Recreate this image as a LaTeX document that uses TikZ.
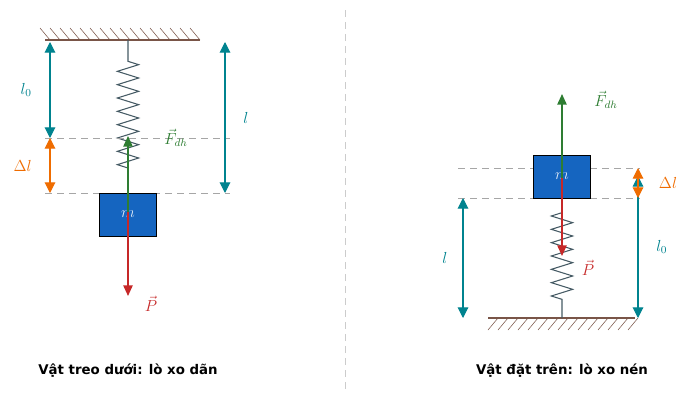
\documentclass[tikz,border=0pt]{standalone}
\usepackage{fontspec}
\setsansfont{DejaVu Sans}
\usetikzlibrary{arrows.meta,decorations.pathmorphing,patterns}
\definecolor{teal}{HTML}{00838F}
\definecolor{orng}{HTML}{EF6C00}
\definecolor{grn}{HTML}{2E7D32}
\definecolor{rd}{HTML}{C62828}
\definecolor{blk}{HTML}{1565C0}
\definecolor{spr}{HTML}{455A64}
\definecolor{brn}{HTML}{795548}
\tikzset{mass/.style = {draw=black, fill=blk, minimum width=42.75pt, minimum height=32.25pt, inner sep=0pt, text=white!85!blk, font=\large},
    spring/.style = {spr, thick, decorate, decoration={zigzag, amplitude=8pt, segment length=10pt, pre length=#1, post length=2pt}},
    dim/.style = {teal, thick, {Triangle[length=8pt,width=8pt]}-{Triangle[length=8pt,width=8pt]}},
    dl/.style = {orng, thick, {Triangle[length=8pt,width=8pt]}-{Triangle[length=8pt,width=8pt]}},
    force/.style = {#1, very thick, -{Triangle[length=8pt,width=7pt]}},
    guide/.style = {gray!70, dashed, dash pattern=on 5pt off 4pt},
    wall/.style = {brn, thick},
    lbl/.style = {font=\large},
    caption/.style = {font=\sffamily\bfseries}}

\begin{document}
\begin{tikzpicture}[x=0.75pt, y=-0.75pt]
    \useasboundingbox (0,0) rectangle (689,400);
    % left: hanging mass
    \draw[wall] (45,40) -- (200,40);
    \foreach \x in {50,60,...,200} \draw[brn] (\x,40) -- (\x-10,28);
    \coordinate (top) at (128,40);
    \coordinate (send) at (128,174);
    \draw[spring=16pt] (top) -- (send);
    \draw[guide] (45,138) -- (230,138);
    \draw[guide] (45,193) -- (230,193);
    \node[mass] (m1) at (128,214.5) {$m$};
    \draw[force=grn] (128,212) -- (128,136);
    \draw[force=rd] (128,212) -- (128,296);
    \node[lbl, grn] (F1) at (176,138) {$\vec F_{dh}$};
    \node[lbl, rd] (P1) at (151,304) {$\vec P$};
    \draw[dim] (50,42) -- (50,138) node[midway, left=10pt, lbl] {$l_0$};
    \draw[dl] (50,138) -- (50,193) node[midway, left=10pt, lbl] {$\Delta l$};
    \draw[dim] (225,42) -- (225,193) node[pos=0.5, right=10pt, lbl] {$l$};
    \node[caption] (c1) at (128,371) {Vật treo dưới: lò xo dãn};

    \draw[gray!40, dashed, dash pattern=on 5pt off 4pt] (345,10) -- (345,390);

    % right: mass resting on spring
    \draw[wall] (488,318) -- (635,318);
    \foreach \x in {488,498,...,628} \draw[brn] (\x+10,318) -- (\x,330);
    \coordinate (bot) at (562,318);
    \coordinate (stop) at (562,210);
    \draw[spring=14pt] (bot) -- (stop);
    \draw[guide] (458,168) -- (640,168);
    \draw[guide] (458,198) -- (640,198);
    \node[mass] (m2) at (562,176.5) {$m$};
    \draw[force=grn] (562,178) -- (562,94);
    \draw[force=rd] (562,178) -- (562,256);
    \node[lbl, grn] (F2) at (606,100) {$\vec F_{dh}$};
    \node[lbl, rd] (P2) at (588,268) {$\vec P$};
    \draw[dim] (638,318) -- (638,176) node[midway, right=10pt, lbl] {$l_0$};
    \draw[dl] (638,168) -- (638,198) node[midway, right=12pt, lbl] {$\Delta l$};
    \draw[dim] (463,198) -- (463,318) node[midway, left=8pt, lbl] {$l$};
    \node[caption] (c2) at (562,371) {Vật đặt trên: lò xo nén};
\end{tikzpicture}
\end{document}
